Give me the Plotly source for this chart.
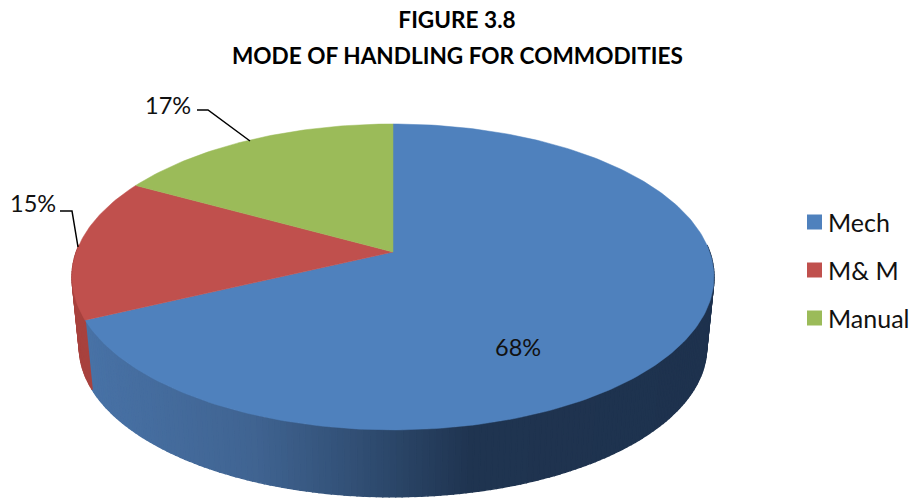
import math
import plotly.graph_objects as go

categories = ["Mech", "M& M", "Manual"]
values = [68, 15, 17]
colors = ["#4F81BD", "#C0504D", "#9BBB59"]
title_line1 = "FIGURE 3.8"
title_line2 = "MODE OF HANDLING FOR COMMODITIES"
FONT = "Lato, Carlito, Calibri, sans-serif"

# pie projection (pixel space of a 911x499 canvas)
CX, CY, R, B, K = 393.0, 252.0, 316.7, 148.9, 0.163
DROP, SHRINK = 71.0, 0.977


def top(theta):
    u, v = math.sin(theta), -math.cos(theta)
    w = 1 / (1 - K * v)
    return CX + R * u * w, CY + B * v * w


def bottom(theta):
    x, y = top(theta)
    return CX + SHRINK * (x - CX), CY + DROP + SHRINK * (y - CY)


def mix(c1, c2, t):
    return tuple(a + (b - a) * t for a, b in zip(c1, c2))


def side_color(i, x):
    if i == 0:
        stops = [(85, (72, 114, 166)), (250, (64, 100, 146)), (350, (50, 80, 118)),
                 (470, (31, 52, 80)), (720, (30, 50, 78))]
        for (x0, c0), (x1, c1) in zip(stops, stops[1:]):
            if x <= x1:
                c = mix(c0, c1, max(0, (x - x0) / (x1 - x0)))
                break
        else:
            c = stops[-1][1]
    elif i == 1:
        c = (168, 66, 62)
    else:
        c = (130, 158, 74)
    return "rgb(%d,%d,%d)" % tuple(round(a) for a in c)


total = sum(values)
fig = go.Figure()
edges = [0.0]
for v in values:
    edges.append(edges[-1] + v / total * 2 * math.pi)

# side wall
for i in range(len(values)):
    a0, a1 = edges[i], edges[i + 1]
    n = max(2, int((a1 - a0) / math.radians(1.0)))
    for j in range(n):
        t0 = a0 + (a1 - a0) * j / n
        t1 = a0 + (a1 - a0) * (j + 1) / n
        mid = (t0 + t1) / 2
        if -math.cos(mid) < -0.05:
            continue
        p = [top(t0), top(t1), bottom(t1), bottom(t0), top(t0)]
        col = side_color(i, top(mid)[0])
        fig.add_trace(go.Scatter(x=[q[0] for q in p], y=[q[1] for q in p], mode="lines",
                                 fill="toself", fillcolor=col, line=dict(color=col, width=1.4),
                                 hoverinfo="skip", showlegend=False))

# top face
for i in range(len(values)):
    a0, a1 = edges[i], edges[i + 1]
    n = max(8, int((a1 - a0) / math.radians(1)))
    pts = [top(a0 + (a1 - a0) * j / n) for j in range(n + 1)]
    xs = [CX] + [q[0] for q in pts] + [CX]
    ys = [CY] + [q[1] for q in pts] + [CY]
    fig.add_trace(go.Scatter(x=xs, y=ys, mode="lines", fill="toself", fillcolor=colors[i],
                             line=dict(color=colors[i], width=0.5), name=categories[i],
                             hoverinfo="skip", showlegend=False))

# legend key
legend_y = [222, 270, 318]
for i, name in enumerate(categories):
    fig.add_trace(go.Scatter(x=[814.5], y=[legend_y[i]], mode="markers", name=name,
                             cliponaxis=False, hoverinfo="skip", showlegend=False,
                             marker=dict(symbol="square", size=15, color=colors[i])))
    fig.add_annotation(x=828, y=legend_y[i], text=name, showarrow=False, xanchor="left",
                       xshift=-2, font=dict(family=FONT, size=25, color="#111111"))

# leader lines
for lx, ly in [([197, 208, 250], [110, 110, 141]), ([60, 72, 78], [211, 211, 247])]:
    fig.add_trace(go.Scatter(x=lx, y=ly, mode="lines", line=dict(color="black", width=1.5),
                             hoverinfo="skip", showlegend=False))

# data labels
label_pos = [(518, 347), (33, 203), (168, 105)]
for (x, y), v in zip(label_pos, values):
    fig.add_annotation(x=x, y=y, text=f"{v}%", showarrow=False,
                       font=dict(family=FONT, size=23.5, color="#111111"))

fig.add_annotation(x=457, y=55, text=title_line2, showarrow=False,
                   font=dict(family=FONT, size=22.6, color="black", weight="bold"))

fig.update_layout(
    width=911, height=499, autosize=False,
    margin=dict(l=0, r=0, t=0, b=0),
    paper_bgcolor="white", plot_bgcolor="white",
    xaxis=dict(range=[0, 911], visible=False, fixedrange=True),
    yaxis=dict(range=[499, 0], visible=False, fixedrange=True),
    title=dict(text=title_line1, x=457 / 911, xanchor="center", y=1 - 20 / 499, yanchor="middle",
               font=dict(family=FONT, size=22.6, color="black", weight="bold")),
    showlegend=False,
)
fig.write_html("out.html", config={"displayModeBar": False},
               post_script="document.body.style.margin='0';document.documentElement.style.overflow='hidden';")
